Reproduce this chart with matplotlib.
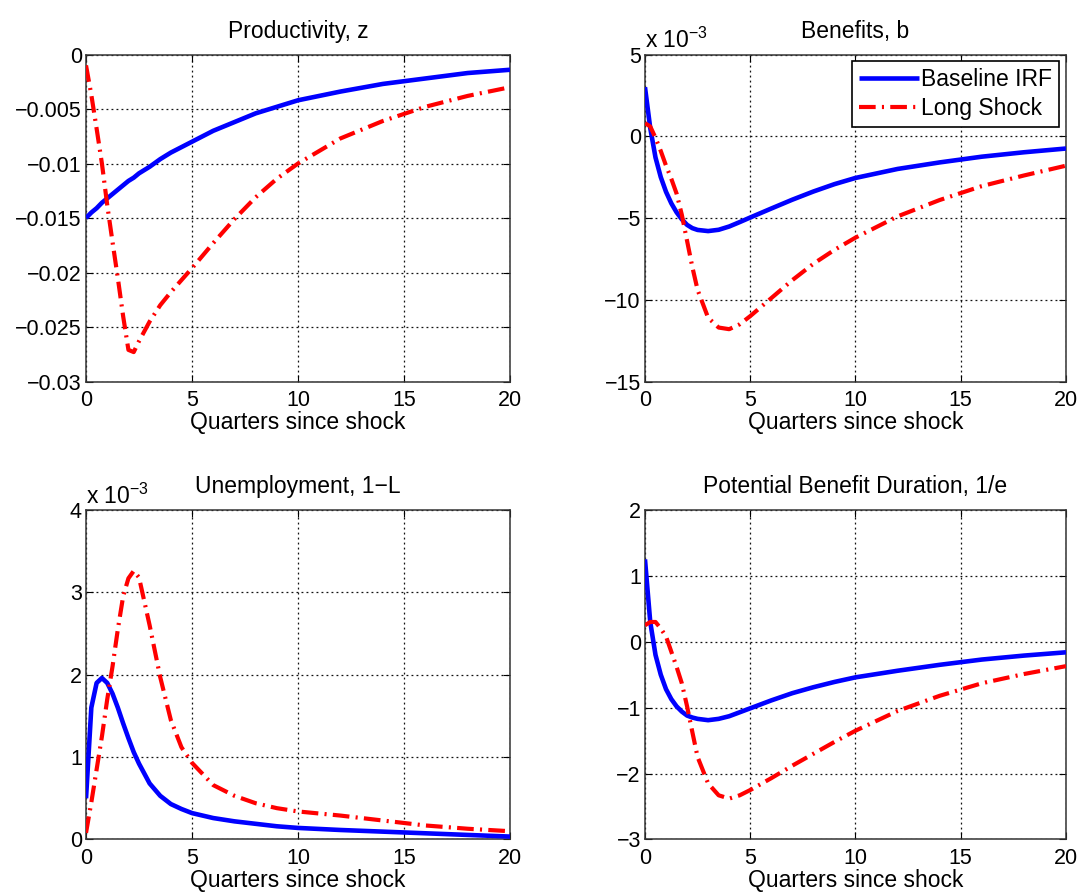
import matplotlib
matplotlib.use("Agg")
import matplotlib.pyplot as plt

plt.rcParams['font.family'] = ['Liberation Sans', 'DejaVu Sans']
plt.rcParams['mathtext.fontset'] = 'custom'
plt.rcParams['mathtext.rm'] = 'Liberation Sans'

quarters = [0, 0.25, 0.5, 0.75, 1, 1.25, 1.5, 1.75, 2, 2.25, 2.5, 3, 3.5, 4, 4.5,
            5, 6, 7, 8, 9, 10, 12, 14, 16, 18, 20]

# Productivity, z
prod_base = [-0.0150, -0.0145, -0.0141, -0.0136, -0.0132, -0.0128, -0.0124, -0.0120,
             -0.0116, -0.0113, -0.0109, -0.0103, -0.0096, -0.0090, -0.0085, -0.0080,
             -0.0070, -0.0062, -0.0054, -0.0048, -0.0042, -0.0034, -0.0027, -0.0022,
             -0.0017, -0.0014]
prod_long = [-0.0010, -0.0037, -0.0068, -0.0100, -0.0138, -0.0172, -0.0205, -0.0240,
             -0.0271, -0.0273, -0.0263, -0.0245, -0.0230, -0.0218, -0.0207, -0.0196,
             -0.0173, -0.0151, -0.0131, -0.0114, -0.0100, -0.0077, -0.0061, -0.0048,
             -0.0038, -0.0030]

# Benefits, b (in units of 10^-3)
ben_base = [3.0, 0.5, -1.3, -2.5, -3.4, -4.1, -4.65, -5.08, -5.42, -5.62, -5.73, -5.8,
            -5.72, -5.52, -5.25, -4.97, -4.42, -3.88, -3.38, -2.93, -2.55, -2.0, -1.6,
            -1.25, -0.98, -0.75]
ben_long = [0.8, 0.6, -0.1, -0.9, -1.8, -2.6, -3.5, -4.8, -6.4, -8.0, -9.4, -11.1,
            -11.7, -11.8, -11.5, -11.0, -9.9, -8.8, -7.8, -6.95, -6.2, -4.9, -3.9,
            -3.05, -2.4, -1.8]

# Unemployment, 1-L (in units of 10^-3)
unemp_base = [0.5, 1.6, 1.9, 1.96, 1.9, 1.77, 1.6, 1.41, 1.23, 1.06, 0.92, 0.68, 0.53,
              0.43, 0.37, 0.32, 0.26, 0.22, 0.19, 0.16, 0.14, 0.115, 0.095, 0.075,
              0.055, 0.035]
unemp_long = [0.08, 0.45, 0.85, 1.25, 1.7, 2.1, 2.55, 2.95, 3.17, 3.26, 3.18, 2.6,
              1.97, 1.45, 1.12, 0.93, 0.66, 0.53, 0.44, 0.38, 0.34, 0.29, 0.23, 0.17,
              0.13, 0.1]

# Potential Benefit Duration, 1/e
pbd_base = [1.25, 0.3, -0.2, -0.5, -0.72, -0.87, -0.98, -1.06, -1.12, -1.15, -1.17,
            -1.19, -1.17, -1.13, -1.07, -1.01, -0.89, -0.78, -0.69, -0.61, -0.54,
            -0.44, -0.35, -0.27, -0.21, -0.16]
pbd_long = [0.25, 0.3, 0.3, 0.2, 0.08, -0.15, -0.38, -0.63, -0.98, -1.37, -1.75,
            -2.15, -2.33, -2.38, -2.33, -2.25, -2.07, -1.88, -1.7, -1.52, -1.35,
            -1.05, -0.82, -0.63, -0.49, -0.37]

titles = ['Productivity, z', 'Benefits, b', 'Unemployment, 1\u2212L',
          'Potential Benefit Duration, 1/e']
series_names = ['Baseline IRF', 'Long Shock']
x_ticks = [0, 5, 10, 15, 20]

prod_ticks = [0, -0.005, -0.01, -0.015, -0.02, -0.025, -0.03]
prod_labels = ['0', '\u22120.005', '\u22120.01', '\u22120.015', '\u22120.02',
               '\u22120.025', '\u22120.03']
ben_ticks = [5, 0, -5, -10, -15]
unemp_ticks = [0, 1, 2, 3, 4]
pbd_ticks = [2, 1, 0, -1, -2, -3]

panels = [
    (prod_base, prod_long, prod_ticks, prod_labels, False),
    (ben_base, ben_long, ben_ticks, None, True),
    (unemp_base, unemp_long, unemp_ticks, None, True),
    (pbd_base, pbd_long, pbd_ticks, None, False),
]

fig = plt.figure(figsize=(10.82, 8.92), dpi=100)

positions = [
    [0.0795, 0.5723, 0.3919, 0.3666],
    [0.5961, 0.5723, 0.3891, 0.3666],
    [0.0795, 0.0589, 0.3919, 0.3694],
    [0.5961, 0.0589, 0.3891, 0.3694],
]

fs_tick = 15.5
fs = 16.5
for i, (base, long_, yt, ylab, expo) in enumerate(panels):
    ax = fig.add_axes(positions[i])
    ax.plot(quarters, base, color=(0, 0, 1), lw=3.3, solid_capstyle='butt',
            solid_joinstyle='round', label=series_names[0], zorder=3)
    ax.plot(quarters, long_, color=(1, 0, 0), lw=3.0,
            linestyle=(0, (4.0, 1.5, 0.5, 1.5)), label=series_names[1], zorder=3)
    ax.set_xlim(0, 20)
    ax.set_ylim(min(yt), max(yt))
    ax.set_xticks(x_ticks)
    ax.set_yticks(yt)
    if ylab is not None:
        ax.set_yticklabels(ylab)
    else:
        ax.set_yticklabels([str(v).replace('-', '\u2212') for v in yt])
    ax.tick_params(direction='in', top=True, right=True, labelsize=fs_tick,
                   length=5, width=0.8)
    ax.tick_params(axis='x', pad=6)
    ax.tick_params(axis='y', pad=3)
    ax.grid(True, color='#111111', linestyle=(0, (1.5, 2.5)), linewidth=0.9)
    for sp in ax.spines.values():
        sp.set_color('#333333')
        sp.set_linewidth(1.1)
    ax.set_title(titles[i], fontsize=fs, pad=12)
    ax.set_xlabel('Quarters since shock', fontsize=fs, labelpad=0)
    if expo:
        ax.text(0.0, 1.004, r'x 10$^{-3}$', transform=ax.transAxes,
                ha='left', va='bottom', fontsize=fs)
    if i == 1:
        leg = ax.legend(loc='upper right', fontsize=fs, frameon=True, fancybox=False,
                        borderaxespad=0.3, handlelength=2.6, handletextpad=0.1,
                        labelspacing=0.25, borderpad=0.3, framealpha=1)
        leg.get_frame().set_edgecolor('black')
        leg.get_frame().set_linewidth(1.2)

fig.savefig('out.png', dpi=100)
